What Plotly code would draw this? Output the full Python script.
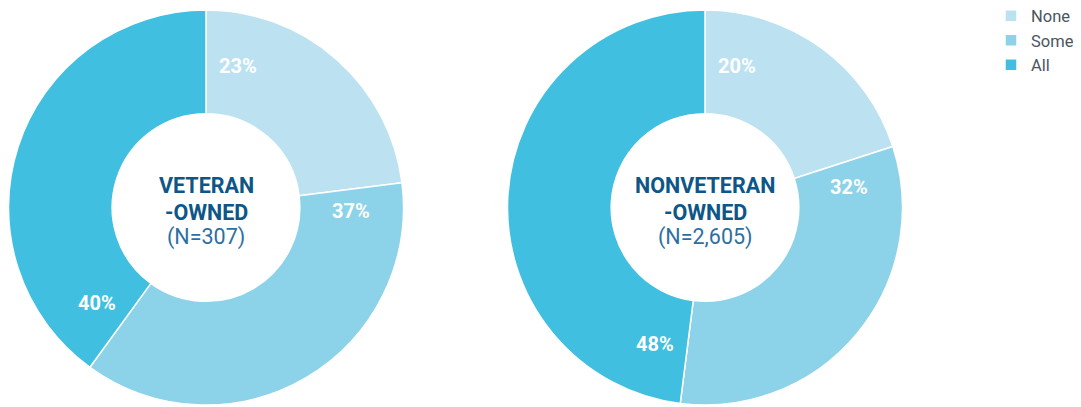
import math
import plotly.graph_objects as go

categories = ["None", "Some", "All"]
veteran_values = [23, 37, 40]
nonveteran_values = [20, 32, 48]
group_line1 = ["VETERAN", "NONVETERAN"]
group_line2 = ["-OWNED", "-OWNED"]
group_ns = ["(N=307)", "(N=2,605)"]
colors = ["#bce2f2", "#8cd3e9", "#40bfe0"]

OFF = 8  # default page body margin
W, H = 1081, 407
MT, MB = 10 - OFF, 2 + OFF
PH = H - MT - MB
R = 197.5
centers_px = [206 - OFF, 705 - OFF]
LABEL_R = 145
GAP = 12
HALF_W, HALF_H = 20, 7


def ypaper(py):
    return (H - MB - py) / PH


fig = go.Figure()
annotations = []
for i, vals in enumerate([veteran_values, nonveteran_values]):
    cx = centers_px[i]
    fig.add_trace(go.Pie(
        labels=categories, values=vals, hole=0.475, sort=False,
        direction="clockwise", rotation=0,
        marker=dict(colors=colors, line=dict(color="white", width=1.5)),
        textinfo="none", hoverinfo="label+percent",
        domain=dict(x=[(cx - R) / W, (cx + R) / W], y=[0, 1]),
        showlegend=(i == 0),
    ))
    cy_px = MT + PH / 2
    total = sum(vals)
    cum = 0
    for v in vals:
        a = math.radians(cum / total * 360)
        # keep the label a fixed gap away from the slice's starting edge
        dist = GAP + HALF_W * abs(math.cos(a)) + HALF_H * abs(math.sin(a))
        ang = a + math.asin(dist / LABEL_R)
        px = cx + LABEL_R * math.sin(ang)
        py = cy_px - LABEL_R * math.cos(ang)
        annotations.append(dict(
            x=px / W, y=ypaper(py), xref="paper", yref="paper",
            xanchor="center", yanchor="middle",
            text=f"<b>{round(v / total * 100)}%</b>", showarrow=False,
            font=dict(family="Roboto", size=20, color="white"),
        ))
        cum += v
    for text, dy, bold, col in [(group_line1[i], -22, True, "#0d5687"),
                                (group_line2[i], 5, True, "#0d5687"),
                                (group_ns[i], 30, False, "#2d6fa3")]:
        annotations.append(dict(
            x=cx / W, y=ypaper(cy_px + dy), xref="paper", yref="paper",
            xanchor="center", yanchor="middle",
            text=f"<b>{text}</b>" if bold else text, showarrow=False,
            font=dict(family="Roboto", size=21.5, color=col),
        ))

fig.update_layout(
    width=W, height=H,
    margin=dict(l=0, r=0, t=MT, b=MB, autoexpand=False),
    paper_bgcolor="white", plot_bgcolor="white",
    annotations=annotations,
    legend=dict(x=(1031 - OFF - 40) / W, xanchor="left", y=ypaper(-1.5 - OFF), yanchor="top",
                font=dict(family="Roboto", size=16.5, color="#4a5560"),
                tracegroupgap=0, itemwidth=30, bgcolor="rgba(0,0,0,0)"),
    font=dict(family="Roboto"),
)

fig.write_html("out.html")
